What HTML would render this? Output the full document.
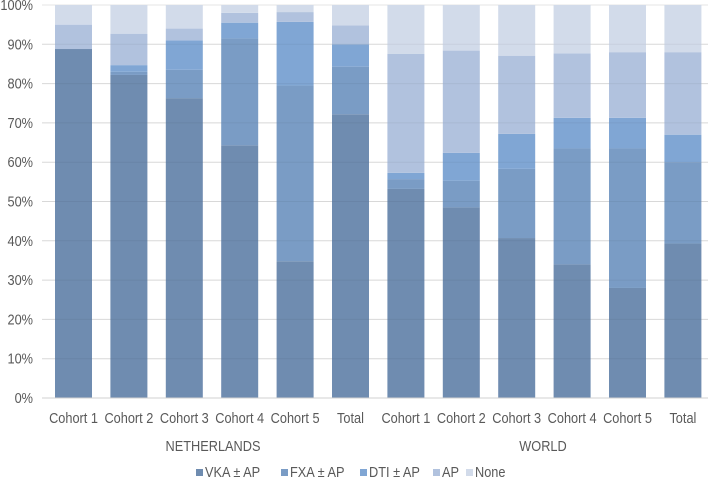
<!DOCTYPE html>
<html><head><meta charset="utf-8"><style>
html,body{margin:0;padding:0;background:#fff}
svg{display:block;font-family:"Liberation Sans",sans-serif}
</style></head><body>
<svg id="c" width="708" height="480" xmlns="http://www.w3.org/2000/svg"></svg>
<script>
const s=document.getElementById('c');
const cols=['#6f8cb0','#7a9cc5','#80a6d4','#b1c2de','#d2dbea'];
const data=[
[88.8,88.8,88.8,95,100],[82.2,83,84.7,92.7,100],[76.3,83.5,91,94,100],[64.3,91.5,95.5,98,100],[34.8,79.5,95.7,98.2,100],[72.2,84.3,90,94.8,100],
[53.2,55.7,57.3,87.6,100],[48.5,55.3,62.4,88.4,100],[40.7,58.3,67.2,87.1,100],[34,63.5,71.3,87.7,100],[28,63.5,71.3,88,100],[39.3,60,67,88,100]];
const Y=p=>398-3.93*p;
function T(x,y,t,anchor){return `<text transform="translate(${x},${y}) scale(0.88,1)" text-anchor="${anchor||'start'}" font-size="14.5" fill="#595959">${t}</text>`;}
let h='';
for(let i=0;i<=10;i++){const y=Y(i*10);h+=`<line x1="42" x2="708" y1="${y}" y2="${y}" stroke="#e4e4e4" stroke-width="1"/>`;
h+=T(33,y+5,i*10+'%','end');}
const labs=['Cohort 1','Cohort 2','Cohort 3','Cohort 4','Cohort 5','Total'];
data.forEach((d,i)=>{const x=55+55.4*i;let prev=0;
d.forEach((v,k)=>{if(v>prev){h+=`<rect x="${x}" y="${Y(v)}" width="37" height="${Y(prev)-Y(v)}" fill="${cols[k]}"/>`;}prev=v;});
h+=T(x+18.5,423,labs[i%6],'middle');});
for(let i=1;i<10;i++){const y=Y(i*10);h+=`<line x1="42" x2="708" y1="${y}" y2="${y}" stroke="rgba(0,0,0,0.05)" stroke-width="1"/>`;}
h+=`<line x1="42" x2="708" y1="398" y2="398" stroke="#d0d0d0"/>`;
h+=T(213,451,'NETHERLANDS','middle');
h+=T(543,451,'WORLD','middle');
const leg=[['VKA ± AP',196],['FXA ± AP',281],['DTI ± AP',360],['AP',433],['None',466]];
leg.forEach((l,k)=>{h+=`<rect x="${l[1]}" y="469" width="7" height="7" fill="${cols[k]}"/>`+T(l[1]+9,477,l[0]);});
s.innerHTML=h;
</script>
</body></html>
